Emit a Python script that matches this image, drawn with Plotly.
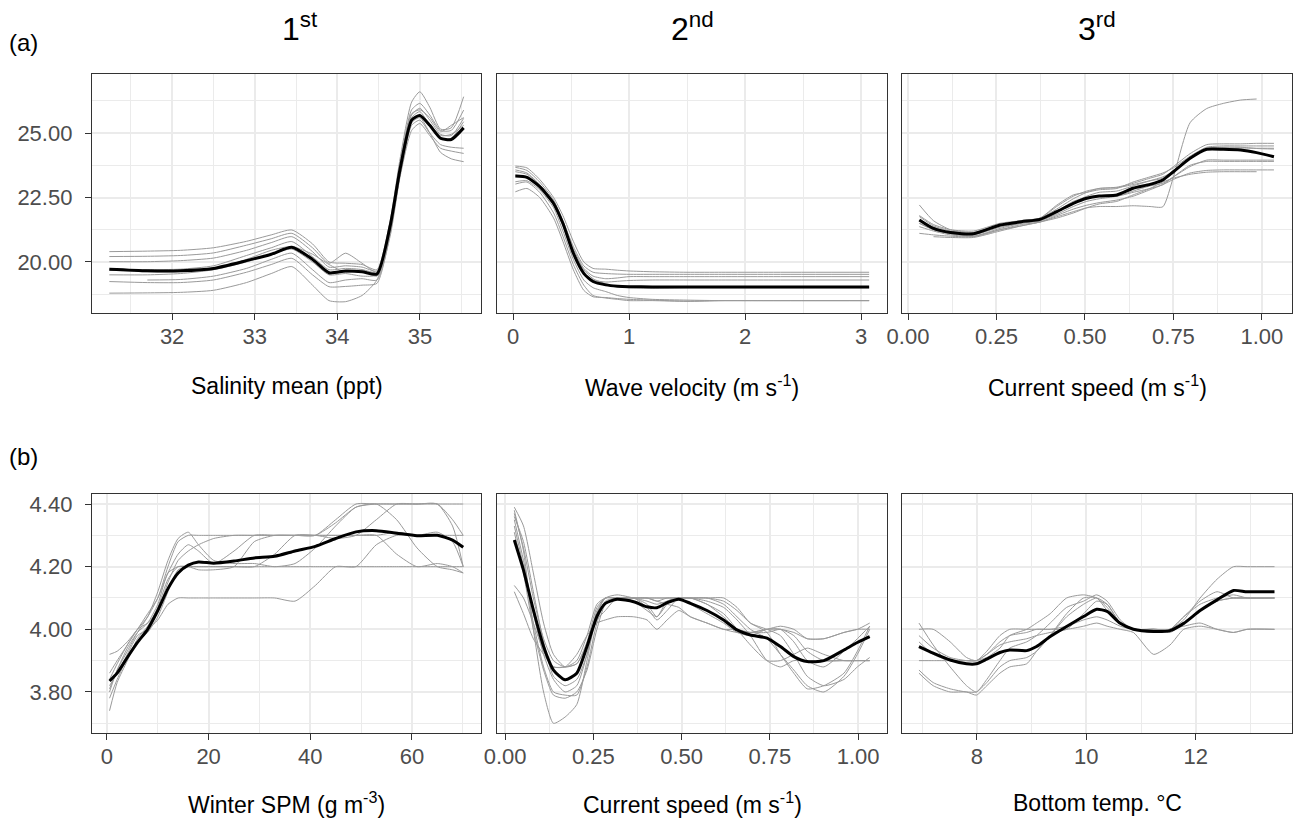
import plotly.graph_objects as go

W, H = 1296, 821

# ---------------- Data ----------------
# Panel a1: Salinity mean (ppt)
a1_x = [31.24, 31.7, 32.1, 32.5, 32.9, 33.2, 33.45, 33.7, 33.9, 34.1, 34.3, 34.48,
        34.64, 34.76, 34.9, 35.0, 35.12, 35.25, 35.38, 35.53]
a1_mean = [19.72, 19.66, 19.66, 19.75, 20.05, 20.30, 20.57, 20.10, 19.58, 19.65, 19.62, 19.53,
           21.4, 23.6, 25.5, 25.68, 25.3, 24.8, 24.75, 25.2]
a1_runs = [
    [20.40, 20.42, 20.45, 20.55, 20.80, 21.05, 21.24, 20.70, 20.00, 19.95, 19.90, 19.70, 21.6, 24.0, 26.2, 26.60, 26.0, 25.15, 25.2, 26.41],
    [20.21, 20.22, 20.25, 20.35, 20.65, 20.90, 21.11, 20.55, 19.95, 20.34, 19.95, 19.60, 21.5, 23.8, 25.9, 26.15, 25.7, 25.10, 25.1, 25.89],
    [20.01, 20.01, 20.05, 20.15, 20.45, 20.75, 20.98, 20.40, 19.80, 19.85, 19.80, 19.65, 21.4, 23.7, 25.7, 25.96, 25.5, 24.95, 24.9, 25.57],
    [19.72, 19.70, 19.72, 19.85, 20.25, 20.55, 20.79, 20.20, 19.70, 19.75, 19.70, 19.45, 21.3, 23.6, 25.6, 25.83, 25.3, 24.75, 24.8, 25.44],
    [19.68, 19.62, 19.62, 19.70, 20.00, 20.30, 20.50, 20.00, 19.50, 19.55, 19.45, 19.50, 21.2, 23.4, 25.3, 25.50, 25.0, 24.55, 24.45, 24.41],
    [None, 19.30, 19.32, 19.45, 19.75, 20.10, 20.34, 19.70, 19.20, 19.30, 19.35, 19.30, 21.0, 23.3, 25.1, 25.37, 24.9, 24.41, 24.3, 24.21],
    [19.24, 19.20, 19.20, 19.30, 19.60, 19.90, 20.14, 19.50, 19.04, 19.05, 19.10, 19.17, 21.1, 23.4, 25.4, 25.60, 25.0, 24.25, 24.0, 23.89],
    [18.79, 18.80, 18.82, 18.90, 19.20, 19.55, 19.82, 19.10, 18.50, 18.46, 18.70, 19.30, 21.2, 23.5, 25.5, 25.70, 25.35, 24.90, 24.95, 25.30],
    [19.50, 19.50, 19.55, 19.70, 20.10, 20.45, 20.60, 20.30, 19.90, 19.60, 19.70, 19.60, 21.4, 23.7, 25.75, 25.90, 25.6, 25.05, 25.3, 25.60],
]

# Panel a2: Wave velocity (m s-1)
a2_x = [0.02, 0.12, 0.23, 0.35, 0.43, 0.52, 0.61, 0.69, 0.8, 0.9, 1.0, 1.2, 1.5, 1.8, 2.2, 3.07]
a2_mean = [23.33, 23.28, 22.92, 22.27, 21.5, 20.34, 19.56, 19.24, 19.11, 19.06, 19.04, 19.03, 19.03, 19.03, 19.03, 19.03]
a2_runs = [
    [23.72, 23.65, 23.2, 22.5, 21.8, 20.8, 20.0, 19.75, 19.72, 19.68, 19.65, 19.62, 19.60, 19.60, 19.60, 19.60],
    [23.67, 23.55, 23.1, 22.4, 21.6, 20.6, 19.85, 19.60, 19.55, 19.53, 19.52, 19.52, 19.52, 19.52, 19.52, 19.52],
    [23.57, 23.45, 23.0, 22.3, 21.5, 20.5, 19.75, 19.45, 19.35, 19.38, 19.43, 19.43, 19.43, 19.43, 19.43, 19.43],
    [23.37, 23.3, 22.9, 22.2, 21.4, 20.3, 19.55, 19.30, 19.22, 19.25, 19.28, 19.30, 19.30, 19.30, 19.30, 19.30],
    [23.11, 23.15, 22.8, 22.1, 21.2, 20.1, 19.30, 19.00, 18.85, 18.70, 18.62, 18.55, 18.52, 18.50, 18.50, 18.50],
    [23.02, 23.1, 22.7, 21.9, 21.0, 19.9, 19.10, 18.70, 18.60, 18.55, 18.50, 18.50, 18.47, 18.50, 18.50, 18.50],
    [22.72, 22.85, 22.5, 21.7, 20.8, 19.7, 18.90, 18.65, 18.62, 18.58, 18.55, 18.52, 18.48, 18.50, 18.50, 18.50],
    [23.50, 23.4, 23.0, 22.35, 21.5, 20.4, 19.7, 19.35, 19.15, 19.05, 19.00, 18.98, 19.0, 19.0, 19.0, 19.0],
]

# Panel a3: Current speed (m s-1)
a3_x = [0.032, 0.072, 0.12, 0.185, 0.26, 0.32, 0.373, 0.42, 0.467, 0.505, 0.54, 0.59, 0.636,
        0.684, 0.72, 0.75, 0.797, 0.844, 0.891, 0.94, 0.985, 1.034]
a3_mean = [21.63, 21.30, 21.14, 21.09, 21.43, 21.56, 21.65, 21.95, 22.27, 22.47, 22.56, 22.60,
           22.86, 23.01, 23.18, 23.50, 24.02, 24.37, 24.37, 24.34, 24.24, 24.08]
a3_runs = [
    [22.21, 21.60, 21.25, 21.15, 21.45, 21.60, 21.70, 22.15, 22.55, 22.75, 22.85, 22.90, 23.05, 23.25, 23.40, 23.70, 24.20, 24.55, 24.58, 24.58, 24.60, 24.60],
    [21.76, 21.40, 21.20, 21.10, 21.40, 21.55, 21.70, 22.20, 22.60, 22.70, 22.80, 22.85, 23.10, 23.30, 23.45, 23.65, 24.10, 24.45, 24.50, 24.50, 24.50, 24.50],
    [21.50, 21.25, 21.10, 21.05, 21.35, 21.50, 21.60, 21.90, 22.30, 22.55, 22.70, 22.75, 22.95, 23.15, 23.30, 23.50, 24.00, 24.40, 24.42, 24.42, 24.41, 24.41],
    [21.37, 21.20, 21.05, 21.00, 21.30, 21.50, 21.60, 21.85, 22.15, 22.35, 22.45, 22.55, 22.75, 22.95, 23.05, 23.30, 23.70, 23.95, 23.95, 23.95, 23.95, 23.95],
    [21.11, 21.05, 21.00, 20.98, 21.25, 21.45, 21.55, 21.80, 22.05, 22.20, 22.30, 22.40, 22.55, 22.80, 23.00, 23.20, 23.45, 23.55, 23.57, 23.57, 23.57, 23.57],
    [None, 20.98, 20.95, 20.95, 21.20, 21.40, 21.55, 21.70, 21.90, 22.10, 22.25, 22.35, 22.60, 22.85, 23.10, 23.25, 23.40, 23.48, 23.50, 23.50, 23.50, None],
    [21.50, 21.25, 21.10, 21.00, 21.25, 21.40, 21.55, 21.75, 21.95, 22.10, 22.15, 22.15, 22.18, 22.15, 22.14, 23.30, 25.40, 25.95, 26.15, 26.28, 26.32, None],
    [21.80, 21.45, 21.25, 21.20, 21.50, 21.60, 21.70, 22.05, 22.45, 22.70, 22.85, 22.88, 23.00, 23.15, 23.25, 23.55, 24.05, 24.40, 24.45, 24.45, 24.40, 24.38],
    [21.60, 21.35, 21.15, 21.10, 21.40, 21.55, 21.65, 21.95, 22.35, 22.50, 22.55, 22.55, 22.70, 22.85, 23.00, 23.30, 23.75, 23.90, 23.90, 23.90, 23.90, 23.90],
]

# Panel b1: Winter SPM (g m-3)
b1_x = [0.5, 2, 4, 6, 8, 10, 12, 14, 16, 18, 21, 25, 29, 33, 37, 41, 45, 49, 53, 57, 61, 65, 68, 70.1]
b1_mean = [3.835, 3.86, 3.91, 3.958, 4.00, 4.06, 4.13, 4.18, 4.205, 4.215, 4.211, 4.218, 4.228, 4.233,
           4.25, 4.265, 4.29, 4.311, 4.315, 4.307, 4.299, 4.30, 4.285, 4.262]
b1_runs = [
    [3.80, 3.87, 3.93, 3.99, 4.04, 4.12, 4.22, 4.29, 4.31, 4.27, 4.22, 4.21, 4.21, 4.20, 4.21, 4.26, 4.33, 4.39, 4.40, 4.40, 4.40, 4.40, 4.40, 4.40],
    [3.92, 3.93, 3.96, 4.00, 4.04, 4.10, 4.18, 4.24, 4.27, 4.25, 4.21, 4.25, 4.30, 4.30, 4.30, 4.30, 4.34, 4.39, 4.40, 4.35, 4.26, 4.20, 4.19, 4.18],
    [3.84, 3.89, 3.95, 4.00, 4.02, 4.06, 4.15, 4.22, 4.25, 4.27, 4.29, 4.30, 4.30, 4.30, 4.30, 4.30, 4.35, 4.40, 4.40, 4.40, 4.40, 4.40, 4.35, 4.30],
    [3.78, 3.84, 3.91, 3.96, 3.99, 4.04, 4.12, 4.19, 4.20, 4.20, 4.20, 4.20, 4.20, 4.24, 4.30, 4.30, 4.29, 4.30, 4.35, 4.40, 4.40, 4.40, 4.33, 4.20],
    [3.82, 3.86, 3.92, 3.98, 4.00, 4.03, 4.08, 4.10, 4.10, 4.10, 4.10, 4.10, 4.10, 4.10, 4.09, 4.14, 4.20, 4.20, 4.27, 4.30, 4.30, 4.30, 4.30, 4.30],
    [3.74, 3.83, 3.90, 3.97, 4.01, 4.07, 4.16, 4.20, 4.20, 4.19, 4.19, 4.20, 4.28, 4.30, 4.30, 4.30, 4.30, 4.30, 4.30, 4.24, 4.20, 4.21, 4.20, 4.18],
    [3.81, 3.87, 3.94, 3.99, 4.02, 4.08, 4.18, 4.20, 4.20, 4.20, 4.20, 4.20, 4.20, 4.20, 4.20, 4.20, 4.20, 4.20, 4.20, 4.20, 4.20, 4.20, 4.20, 4.20],
    [3.86, 3.90, 3.95, 4.00, 4.05, 4.10, 4.20, 4.28, 4.30, 4.30, 4.30, 4.30, 4.30, 4.30, 4.30, 4.30, 4.30, 4.30, 4.30, 4.31, 4.30, 4.31, 4.28, 4.20],
]

# Panel b2: Current speed (m s-1)
b2_x = [0.026, 0.052, 0.08, 0.109, 0.137, 0.17, 0.203, 0.232, 0.26, 0.284, 0.317, 0.364, 0.402, 0.43,
        0.459, 0.492, 0.525, 0.572, 0.619, 0.657, 0.695, 0.742, 0.78, 0.818, 0.856, 0.903, 0.96, 0.998, 1.033]
b2_mean = [4.285, 4.189, 4.062, 3.945, 3.870, 3.839, 3.860, 3.945, 4.041, 4.083, 4.096, 4.088, 4.072, 4.069,
           4.085, 4.096, 4.083, 4.060, 4.030, 3.998, 3.982, 3.972, 3.945, 3.913, 3.897, 3.900, 3.934, 3.958, 3.977]
b2_runs = [
    [4.37, 4.26, 4.10, 3.97, 3.90, 3.88, 3.90, 3.98, 4.08, 4.10, 4.10, 4.10, 4.10, 4.10, 4.10, 4.10, 4.10, 4.08, 4.04, 4.00, 3.99, 3.99, 4.00, 3.98, 3.93, 3.90, 3.90, 3.90, 3.90],
    [4.39, 4.33, 4.18, 4.02, 3.92, 3.88, 3.89, 3.96, 4.07, 4.10, 4.10, 4.09, 4.06, 4.04, 4.08, 4.10, 4.08, 4.05, 4.02, 3.99, 3.98, 4.00, 4.00, 3.96, 3.90, 3.88, 3.93, 3.97, 4.01],
    [4.35, 4.22, 4.05, 3.92, 3.84, 3.80, 3.82, 3.92, 4.05, 4.10, 4.10, 4.10, 4.07, 4.03, 4.06, 4.10, 4.10, 4.09, 4.07, 4.03, 3.98, 3.90, 3.88, 3.90, 3.90, 3.90, 3.90, 3.90, 3.90],
    [4.33, 4.20, 4.02, 3.88, 3.80, 3.79, 3.79, 3.88, 4.02, 4.09, 4.10, 4.10, 4.10, 4.09, 4.10, 4.10, 4.10, 4.10, 4.08, 4.04, 4.00, 3.97, 3.92, 3.87, 3.82, 3.80, 3.85, 3.92, 4.00],
    [4.31, 4.18, 4.00, 3.87, 3.79, 3.78, 3.80, 3.87, 4.00, 4.08, 4.10, 4.10, 4.08, 4.04, 4.09, 4.10, 4.10, 4.10, 4.10, 4.07, 4.02, 4.00, 3.98, 3.92, 3.85, 3.82, 3.84, 3.88, 3.91],
    [4.14, 4.10, 4.02, 3.93, 3.88, 3.88, 3.89, 3.95, 4.03, 4.06, 4.10, 4.10, 4.10, 4.09, 4.08, 4.07, 4.04, 4.02, 4.00, 4.00, 3.99, 4.00, 4.00, 3.99, 3.97, 3.97, 3.99, 4.00, 4.02],
    [4.12, 4.05, 3.97, 3.92, 3.88, 3.88, 3.92, 3.98, 4.02, 4.03, 4.04, 4.04, 4.03, 4.00, 4.03, 4.06, 4.04, 4.02, 4.00, 3.99, 3.99, 4.00, 4.01, 4.00, 3.97, 3.97, 3.99, 4.00, 4.00],
    [4.38, 4.25, 4.00, 3.80, 3.70, 3.72, 3.76, 3.90, 4.05, 4.10, 4.11, 4.10, 4.09, 4.08, 4.09, 4.10, 4.10, 4.08, 4.05, 4.00, 3.95, 3.90, 3.90, 3.92, 3.94, 3.92, 3.90, 3.90, 3.90],
    [4.36, 4.28, 4.12, 3.96, 3.85, 3.82, 3.84, 3.92, 4.06, 4.10, 4.10, 4.10, 4.10, 4.10, 4.10, 4.10, 4.10, 4.10, 4.09, 4.06, 4.02, 3.99, 3.92, 3.86, 3.81, 3.82, 3.86, 3.93, 4.01],
]

# Panel b3: Bottom temp. °C
b3_x = [6.94, 7.2, 7.51, 7.81, 7.99, 8.18, 8.42, 8.6, 8.91, 9.09, 9.34, 9.64, 9.95, 10.19, 10.38,
        10.62, 10.86, 11.23, 11.53, 11.78, 12.08, 12.39, 12.69, 12.94, 13.44]
b3_mean = [3.945, 3.924, 3.902, 3.890, 3.890, 3.905, 3.926, 3.934, 3.932, 3.945, 3.977, 4.009, 4.041,
           4.064, 4.057, 4.019, 4.000, 3.993, 3.996, 4.019, 4.060, 4.094, 4.124, 4.120, 4.120]
b3_runs = [
    [4.00, 4.00, 3.96, 3.91, 3.90, 3.93, 3.98, 4.00, 4.00, 4.00, 4.00, 4.01, 4.03, 4.04, 4.03, 4.01, 4.00, 3.99, 4.00, 4.01, 4.02, 4.00, 3.99, 4.00, 4.00],
    [3.90, 3.90, 3.90, 3.90, 3.90, 3.91, 3.94, 3.98, 4.00, 4.02, 4.05, 4.10, 4.11, 4.10, 4.07, 4.02, 4.00, 4.00, 4.00, 4.03, 4.10, 4.16, 4.20, 4.20, 4.20],
    [4.02, 3.95, 3.88, 3.82, 3.80, 3.84, 3.90, 3.94, 3.96, 3.98, 4.02, 4.07, 4.09, 4.11, 4.09, 4.03, 4.00, 4.00, 4.00, 4.04, 4.08, 4.10, 4.11, 4.10, 4.10],
    [3.86, 3.82, 3.80, 3.80, 3.79, 3.82, 3.86, 3.88, 3.89, 3.93, 3.98, 4.04, 4.08, 4.10, 4.08, 4.02, 4.00, 4.00, 3.99, 4.02, 4.06, 4.09, 4.10, 4.10, 4.10],
    [3.96, 3.92, 3.90, 3.90, 3.90, 3.92, 3.96, 3.98, 3.99, 4.00, 4.00, 4.00, 4.01, 4.02, 4.01, 4.00, 3.99, 3.92, 3.95, 4.00, 4.01, 4.00, 3.99, 4.00, 4.00],
    [3.87, 3.83, 3.81, 3.80, 3.80, 3.83, 3.88, 3.90, 3.91, 3.93, 3.98, 4.05, 4.10, 4.10, 4.06, 4.02, 4.00, 4.00, 4.00, 4.04, 4.09, 4.12, 4.10, 4.10, 4.10],
    [3.98, 3.94, 3.91, 3.90, 3.90, 3.92, 3.95, 3.96, 3.97, 3.98, 3.99, 4.00, 4.05, 4.09, 4.08, 4.02, 4.00, 4.00, 4.00, 4.02, 4.06, 4.09, 4.10, 4.10, 4.10],
]

x_titles = ["Salinity mean (ppt)", "Wave velocity (m s<sup>-1</sup>)", "Current speed (m s<sup>-1</sup>)",
            "Winter SPM (g m<sup>-3</sup>)", "Current speed (m s<sup>-1</sup>)", "Bottom temp. °C"]
col_titles = ["1<sup>st</sup>", "2<sup>nd</sup>", "3<sup>rd</sup>"]
row_labels = ["(a)", "(b)"]

# ---------------- Layout geometry ----------------
cols_px = [(92, 481), (497, 887), (902, 1292)]
rows_px = [(74, 313), (494, 733)]

x_ranges = [[31.03, 35.74], [-0.138, 3.224], [-0.017, 1.085],
            [-2.95, 73.6], [-0.023, 1.082], [6.63, 13.76]]
x_dticks = [(1, 0.5, None), (1, 0.5, None), (0.25, 0.125, ".2f"),
            (20, 10, None), (0.25, 0.125, ".2f"), (2, 1, None)]
y_ranges = [[18.02, 27.29], [3.669, 4.432]]
y_dticks = [(2.5, 1.25), (0.2, 0.1)]

panels = [(a1_x, a1_mean, a1_runs), (a2_x, a2_mean, a2_runs), (a3_x, a3_mean, a3_runs),
          (b1_x, b1_mean, b1_runs), (b2_x, b2_mean, b2_runs), (b3_x, b3_mean, b3_runs)]

FONT = "Arial, Liberation Sans, sans-serif"
GRID = "#EBEBEB"
AX = "#333333"

fig = go.Figure()
layout = dict(width=W, height=H, margin=dict(l=0, r=0, t=0, b=0, autoexpand=False),
              paper_bgcolor="white", plot_bgcolor="white", showlegend=False,
              font=dict(family=FONT, color="black"))

for i, (xs, mean, runs) in enumerate(panels):
    r, c = divmod(i, 3)
    n = i + 1
    xa = "x" if n == 1 else f"x{n}"
    ya = "y" if n == 1 else f"y{n}"
    for run in runs:
        fig.add_trace(go.Scatter(x=xs, y=run, mode="lines", xaxis=xa, yaxis=ya,
                                 line=dict(color="#9A9A9A", width=1, shape="spline", smoothing=0.6),
                                 connectgaps=False, hoverinfo="skip"))
    fig.add_trace(go.Scatter(x=xs, y=mean, mode="lines", xaxis=xa, yaxis=ya,
                             line=dict(color="black", width=3, shape="spline", smoothing=0.6)))

    l, rr = cols_px[c]
    t, b = rows_px[r]
    dt, mdt, fmt = x_dticks[i]
    xkey = "xaxis" if n == 1 else f"xaxis{n}"
    ykey = "yaxis" if n == 1 else f"yaxis{n}"
    layout[xkey] = dict(domain=[l / W, rr / W], range=x_ranges[i], anchor=ya,
                        tick0=0, dtick=dt, tickformat=fmt or "",
                        ticks="outside", ticklen=6, tickwidth=1.3, tickcolor=AX,
                        tickfont=dict(size=22, color="#4D4D4D", family=FONT),
                        ticklabelstandoff=-3,
                        showgrid=True, gridcolor=GRID, gridwidth=1.8, zeroline=False,
                        showline=True, linecolor=AX, linewidth=1.3, mirror=True,
                        minor=dict(tick0=0, dtick=mdt, showgrid=True, gridcolor=GRID, gridwidth=0.9),
                        fixedrange=True)
    ydt, ymdt = y_dticks[r]
    ydict = dict(domain=[1 - b / H, 1 - t / H], range=y_ranges[r], anchor=xa,
                 tick0=0, dtick=ydt, tickformat=".2f",
                 showgrid=True, gridcolor=GRID, gridwidth=1.8, zeroline=False,
                 showline=True, linecolor=AX, linewidth=1.3, mirror=True,
                 minor=dict(tick0=0, dtick=ymdt, showgrid=True, gridcolor=GRID, gridwidth=0.9),
                 fixedrange=True)
    if c == 0:
        ydict.update(ticks="outside", ticklen=6, tickwidth=1.3, tickcolor=AX,
                     tickfont=dict(size=22, color="#4D4D4D", family=FONT),
                     ticklabelstandoff=8, showticklabels=True)
    else:
        ydict.update(ticks="", showticklabels=False,
                     matches="y" if r == 0 else "y4")
    layout[ykey] = ydict

annotations = []
# axis titles
for i, txt in enumerate(x_titles):
    r, c = divmod(i, 3)
    l, rr = cols_px[c]
    yc = [386, 803][r]
    annotations.append(dict(text=txt, x=(l + rr) / 2 / W, y=1 - yc / H, xref="paper", yref="paper",
                            xanchor="center", yanchor="middle", showarrow=False,
                            font=dict(size=23, color="black", family=FONT)))
# column titles
for c, txt in enumerate(col_titles):
    xc = [300, 692, 1097][c]
    annotations.append(dict(text=txt, x=xc / W, y=1 - 27 / H, xref="paper", yref="paper",
                            xanchor="center", yanchor="middle", showarrow=False,
                            font=dict(size=32, color="black", family=FONT)))
# row labels
for r, txt in enumerate(row_labels):
    yc = [43, 457][r]
    annotations.append(dict(text=txt, x=7 / W, y=1 - yc / H, xref="paper", yref="paper",
                            xanchor="left", yanchor="middle", showarrow=False,
                            font=dict(size=24, color="black", family=FONT)))
layout["annotations"] = annotations

fig.update_layout(**layout)
fig.write_html("out.html", config={"displayModeBar": False})

# remove default browser body margin so the figure sits at the page origin
with open("out.html", encoding="utf-8") as f:
    html = f.read()
html = html.replace("<body>", '<body style="margin:0;padding:0;overflow:hidden">', 1)
with open("out.html", "w", encoding="utf-8") as f:
    f.write(html)
